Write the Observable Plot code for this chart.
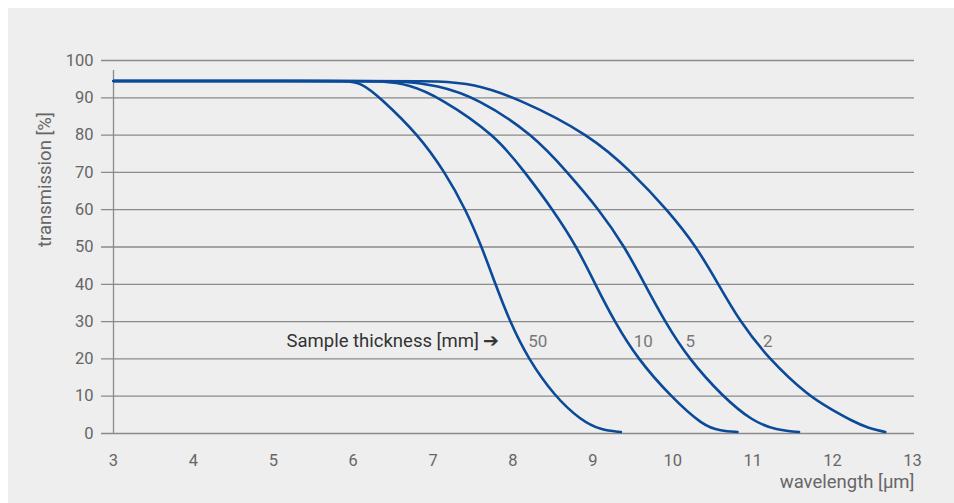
<!DOCTYPE html>
<html>
<head>
<meta charset="utf-8">
<script src="https://cdn.jsdelivr.net/npm/d3@7"></script>
<script src="https://cdn.jsdelivr.net/npm/@observablehq/plot@0.6"></script>
<style>
  html, body { margin: 0; padding: 0; background: #ffffff; }
  #chart { position: absolute; left: 8px; top: 8px; width: 946px; height: 495px; background: #eeeeee; overflow: hidden; }
  svg { font-family: Roboto, "Noto Sans", sans-serif; }
</style>
</head>
<body>
<div id="chart"></div>
<script>
// ---- data ----
const thicknessLabels = ["50", "10", "5", "2"];
const labelPositions = [8.31, 9.63, 10.22, 11.19];

const wl50 = [3, 5.5, 5.9, 6.1, 6.34, 6.82, 7.15, 7.41, 7.61, 7.78, 7.96, 8.19, 8.52, 8.85, 9.1, 9.35];
const tr50 = [94.5, 94.5, 94.5, 94.1, 90, 80, 70, 60, 50, 40, 30, 20, 10, 3.5, 0.9, 0.4];

const wl10 = [3, 6.0, 6.35, 6.7, 7.09, 7.78, 8.15, 8.50, 8.80, 9.03, 9.27, 9.56, 9.97, 10.38, 10.6, 10.81];
const tr10 = [94.5, 94.5, 94.5, 93.6, 90, 80, 70, 60, 50, 40, 30, 20, 10, 2.0, 0.7, 0.4];

const wl5 = [3, 6.2, 6.6, 7.05, 7.55, 8.26, 8.68, 9.08, 9.40, 9.65, 9.90, 10.20, 10.62, 11.0, 11.3, 11.58];
const tr5 = [94.5, 94.5, 94.5, 93.4, 90, 80, 70, 60, 50, 40, 30, 20, 10, 3.2, 0.9, 0.4];

const wl2 = [3, 6.6, 7.05, 7.5, 8.05, 8.97, 9.49, 9.93, 10.30, 10.57, 10.84, 11.20, 11.70, 12.0, 12.25, 12.45, 12.66];
const tr2 = [94.5, 94.5, 94.5, 93.8, 90, 80, 70, 60, 50, 40, 30, 20, 10, 6.3, 3.3, 1.4, 0.4];

const xTicks = [3, 4, 5, 6, 7, 8, 9, 10, 11, 12, 13];
const yTicks = [0, 10, 20, 30, 40, 50, 60, 70, 80, 90, 100];
const labelY = 24.7;

// ---- build tables ----
const series = [
  {name: "50", wl: wl50, tr: tr50},
  {name: "10", wl: wl10, tr: tr10},
  {name: "5", wl: wl5, tr: tr5},
  {name: "2", wl: wl2, tr: tr2}
];
const rows = series.flatMap(s => s.wl.map((w, i) => ({series: s.name, x: w, y: s.tr[i]})));
const labels = thicknessLabels.map((t, i) => ({t, x: labelPositions[i], y: labelY}));

const blue = "#0b4a99";
const grid = "#8a8a8a";

const chart = Plot.plot({
  width: 946,
  height: 495,
  marginLeft: 105,
  marginRight: 42,
  marginTop: 52,
  marginBottom: 70,
  style: {background: "transparent", fontSize: "16px", fontFamily: "Roboto, 'Noto Sans', sans-serif"},
  x: {domain: [3, 13], ticks: xTicks},
  y: {domain: [0, 100], ticks: yTicks},
  marks: [
    Plot.ruleY(yTicks, {stroke: grid, strokeWidth: 1.3, insetLeft: -12, insetRight: -2}),
    Plot.ruleX([3], {y1: 0, y2: 100, stroke: grid, strokeWidth: 1.3, insetBottom: -10}),
    Plot.axisY({ticks: yTicks, tickSize: 0, tickPadding: 20, label: null, fill: "#666", fontSize: 16.5}),
    Plot.axisX({ticks: xTicks, tickSize: 0, tickPadding: 21, label: null, fill: "#666", fontSize: 16.5}),
    Plot.line(rows, {x: "x", y: "y", z: "series", stroke: blue, strokeWidth: 2.6, curve: "basis"}),
    Plot.text(labels, {x: "x", y: "y", text: "t", fill: "#777", fontSize: 17}),
    Plot.text(["Sample thickness [mm] \u2794"], {x: 7.83, y: labelY, textAnchor: "end", fill: "#333", fontSize: 18.5}),
    Plot.text(["transmission [%]"], {frameAnchor: "left", dx: -68, rotate: -90, fill: "#666", fontSize: 18.5}),
    Plot.text(["wavelength [\u00b5m]"], {frameAnchor: "bottom-right", dy: 54, dx: 2, textAnchor: "end", fill: "#666", fontSize: 18.5})
  ]
});
document.getElementById("chart").appendChild(chart);
</script>
</body>
</html>
